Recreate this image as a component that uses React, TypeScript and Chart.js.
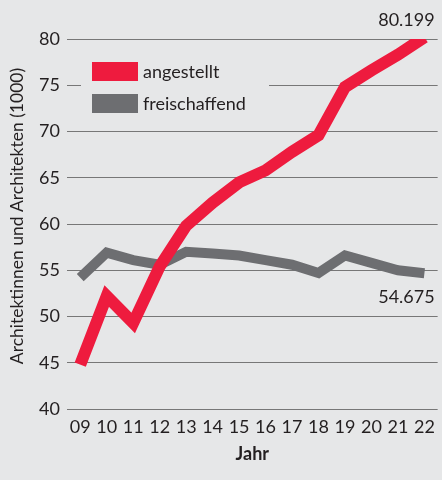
import React, { useEffect, useRef } from "react";
import { Chart, registerables } from "chart.js";

Chart.register(...registerables);

const years = ["09", "10", "11", "12", "13", "14", "15", "16", "17", "18", "19", "20", "21", "22"];
const angestellt = [44.8, 52.2, 49.3, 55.4, 59.8, 62.3, 64.5, 65.8, 67.8, 69.6, 74.8, 76.6, 78.3, 80.199];
const freischaffend = [54.2, 56.9, 56.1, 55.6, 57.0, 56.8, 56.6, 56.1, 55.6, 54.7, 56.6, 55.8, 55.0, 54.675];
const seriesNames = ["angestellt", "freischaffend"];
const endLabels = ["80.199", "54.675"];
const yTitle = "Architektinnen und Architekten (1000)";
const xTitle = "Jahr";
const yMin = 40;
const yMax = 80;
const yStep = 5;

const BG = "#e6e7e8";
const RED = "#ee1b3e";
const GRAY = "#6d6e71";
const TEXT = "#231f20";
const FONT = "Lato, 'Open Sans', sans-serif";

export default function App() {
  const ref = useRef<HTMLCanvasElement | null>(null);

  useEffect(() => {
    document.body.style.margin = "0";
    document.body.style.background = BG;
    const canvas = ref.current;
    if (!canvas) return;

    const legendPlugin = {
      id: "customLegend",
      beforeDatasetsDraw(chart: any) {
        const { ctx } = chart;
        ctx.save();
        ctx.fillStyle = BG;
        ctx.fillRect(81, 52, 188, 70);
        chart.data.datasets.forEach((ds: any, i: number) => {
          const y = 62 + i * 32;
          ctx.fillStyle = ds.borderColor;
          ctx.fillRect(92, y, 46, 19);
          ctx.fillStyle = TEXT;
          ctx.font = `18px ${FONT}`;
          ctx.textAlign = "left";
          ctx.textBaseline = "middle";
          ctx.fillText(ds.label, 143, y + 10);
        });
        ctx.restore();
      },
    };

    const textPlugin = {
      id: "extraText",
      afterDatasetsDraw(chart: any) {
        const { ctx, chartArea } = chart;
        const yScale = chart.scales.y;
        ctx.save();
        ctx.fillStyle = TEXT;
        ctx.font = `18px ${FONT}`;
        ctx.textAlign = "right";
        ctx.textBaseline = "middle";
        const last = years.length - 1;
        const yR = yScale.getPixelForValue(angestellt[last]) - 17;
        const yG = yScale.getPixelForValue(freischaffend[last]) + 24;
        ctx.fillText(endLabels[0], chartArea.right - 3, yR);
        ctx.fillText(endLabels[1], chartArea.right - 3, yG);
        // y axis title
        ctx.translate(17, 216);
        ctx.rotate(-Math.PI / 2);
        ctx.textAlign = "center";
        ctx.font = `17.5px ${FONT}`;
        ctx.fillText(yTitle, 0, 0);
        ctx.restore();
      },
    };

    const chart = new Chart(canvas, {
      type: "line",
      data: {
        labels: years,
        datasets: [
          {
            label: seriesNames[0],
            data: angestellt,
            borderColor: RED,
            backgroundColor: RED,
            borderWidth: 12,
            pointRadius: 0,
            borderJoinStyle: "miter",
            borderCapStyle: "butt",
            tension: 0,
            order: 0,
          },
          {
            label: seriesNames[1],
            data: freischaffend,
            borderColor: GRAY,
            backgroundColor: GRAY,
            borderWidth: 10,
            pointRadius: 0,
            borderJoinStyle: "miter",
            borderCapStyle: "butt",
            tension: 0,
            order: 1,
          },
        ],
      },
      options: {
        responsive: false,
        animation: false,
        devicePixelRatio: 1,
        layout: { padding: { top: 39, right: 4, bottom: 0, left: 0 } },
        plugins: {
          legend: { display: false },
          tooltip: { enabled: false },
        },
        scales: {
          x: {
            type: "category",
            offset: true,
            grid: { display: false, drawTicks: false },
            border: { display: false },
            ticks: {
              color: TEXT,
              font: { family: FONT, size: 18 },
              padding: 7,
              maxRotation: 0,
              autoSkip: false,
            },
            title: {
              display: true,
              text: xTitle,
              color: TEXT,
              font: { family: FONT, size: 18, weight: "bold" },
              padding: { top: 0, bottom: 15 },
            },
            afterFit(scale: any) {
              scale.height = 71;
            },
          },
          y: {
            min: yMin,
            max: yMax,
            ticks: {
              stepSize: yStep,
              color: TEXT,
              font: { family: FONT, size: 18 },
              padding: 7,
            },
            grid: { color: "#777777", lineWidth: 1, drawTicks: false },
            border: { display: false },
            title: { display: false },
            afterFit(scale: any) {
              scale.width = 67;
            },
          },
        },
      },
      plugins: [legendPlugin, textPlugin],
    } as any);

    return () => chart.destroy();
  }, []);

  return (
    <div style={{ width: 442, height: 480, background: BG }}>
      <canvas ref={ref} width={442} height={480} style={{ display: "block" }} />
    </div>
  );
}
